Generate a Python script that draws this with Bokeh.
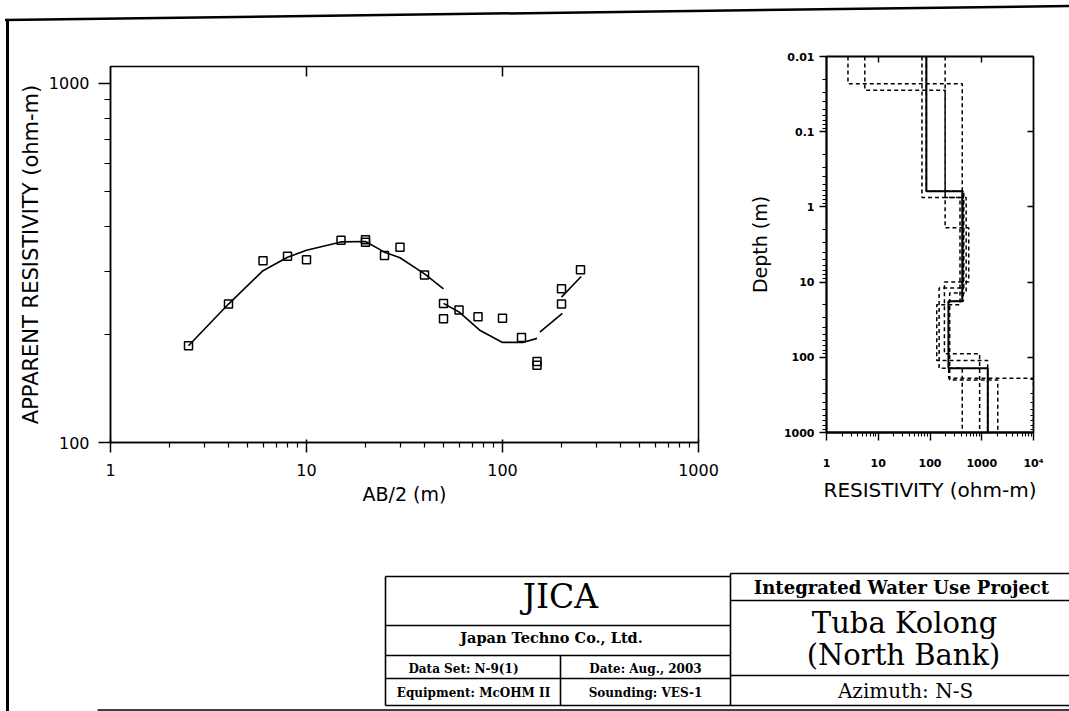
from bokeh.plotting import figure
from bokeh.layouts import column, row
from bokeh.models import Range1d, FixedTicker, LogAxis, CustomJSTickFormatter
from bokeh.core.properties import value
from bokeh.embed import file_html
from bokeh.resources import INLINE

# ---------------- data: apparent resistivity sounding curve ----------------
ab2 = [2.5, 4, 6, 8, 10, 15, 20, 20, 25, 30, 40, 50, 50, 60, 75, 100, 125, 150, 150, 200, 200, 250]
rho_app = [186, 243, 321, 330, 323, 366, 367, 361, 332, 350, 293, 244, 221, 234, 224, 222, 196, 168, 164, 243, 268, 303]

fit1_x = [2.5, 4, 6, 8, 10, 15, 20, 25, 30, 40, 50]
fit1_y = [186, 243, 301, 328, 343, 362, 363, 339, 327, 295, 268]
fit2_x = [50, 60, 77, 100, 127, 150]
fit2_y = [244, 231, 205, 190, 190, 195]
fit3_x = [155, 202]
fit3_y = [203, 229]
fit4_x = [200, 252]
fit4_y = [254, 290]

ab2_ticks = [1, 10, 100, 1000]
rho_ticks = [100, 1000]

# ---------------- data: layered model (right) ----------------
best_rho = [85, 420, 227, 1310]
best_bottom = [0.62, 18, 140]
equiv_rho = [
    [2.6, 420, 450, 150, 420],
    [5.5, 196, 560, 190, 910],
    [196, 500, 240, 2040],
    [70, 380, 135, 1300],
    [85, 440, 230, 10000],
]
equiv_bottom = [
    [0.023, 0.62, 12, 140],
    [0.028, 1.9, 10, 90],
    [0.75, 14, 200],
    [0.75, 20, 110],
    [0.62, 18, 190],
]
depth_top, depth_base = 0.01, 1000
res_ticks = [1, 10, 100, 1000, 10000]
depth_ticks = [0.01, 0.1, 1, 10, 100, 1000]

# ---------------- title block texts ----------------
block_left = ["JICA", "Japan Techno Co., Ltd.", "Data Set: N-9(1)", "Date: Aug., 2003",
              "Equipment: McOHM II", "Sounding: VES-1"]
block_right = ["Integrated Water Use Project", "Tuba Kolong", "(North Bank)", "Azimuth: N-S"]


def log_minors(e0, e1):
    return [m * 10.0 ** e for e in range(e0, e1) for m in range(2, 10)]


def profile(rhos, bottoms):
    tops = [depth_top] + list(bottoms)
    bots = list(bottoms) + [depth_base]
    xs, ys = [], []
    for r, t, b in zip(rhos, tops, bots):
        xs += [r, r]
        ys += [t, b]
    return xs, ys


fmt = CustomJSTickFormatter(code="return tick >= 9999 ? '10\u2074' : String(tick);")
blank = CustomJSTickFormatter(code="return '';")
SANS = "DejaVu Sans"
SERIF = "DejaVu Serif"

TOP_H = 565
W1, W2 = 745, 324
R = W1 + W2
H3 = 711 - TOP_H

# ================= left: sounding curve =================
p1 = figure(width=W1, height=TOP_H, x_axis_type="log", y_axis_type="log",
            x_range=Range1d(1, 1000), y_range=Range1d(100, 1115),
            toolbar_location=None, output_backend="svg",
            min_border_left=110, min_border_right=W1 - 698, min_border_top=66,
            min_border_bottom=TOP_H - 442)
p1.grid.visible = False
p1.outline_line_color = "black"
p1.outline_line_width = 1.5
p1.border_fill_color = None

xa = p1.xaxis[0]
xa.ticker = FixedTicker(ticks=ab2_ticks, minor_ticks=log_minors(0, 3))
xa.major_tick_out, xa.major_tick_in = 10, 3
xa.minor_tick_out, xa.minor_tick_in = 5, 0
xa.major_label_standoff = 11
xa.axis_label = "AB/2 (m)"
xa.axis_label_standoff = 4
xa.axis_label_text_font_size = "19px"

ya = p1.yaxis[0]
ya.ticker = FixedTicker(ticks=rho_ticks, minor_ticks=log_minors(2, 3))
ya.major_tick_out, ya.major_tick_in = 12, 0
ya.minor_tick_out, ya.minor_tick_in = 6, 0
ya.major_label_standoff = 9
ya.axis_label = "APPARENT RESISTIVITY (ohm-m)"
ya.axis_label_standoff = 3
ya.axis_label_text_font_size = "21px"

for a in (xa, ya):
    a.formatter = fmt
    a.axis_line_width = 1.5
    a.major_tick_line_width = 1.5
    a.minor_tick_line_width = 1.2
    a.major_label_text_font = SANS
    a.major_label_text_font_size = "16px"
    a.major_label_text_color = "black"
    a.axis_label_text_font = SANS
    a.axis_label_text_font_style = "normal"
    a.axis_label_text_color = "black"

top1 = LogAxis(ticker=FixedTicker(ticks=[10, 100]), formatter=blank, major_tick_in=10, major_tick_out=0,
               minor_tick_in=0, minor_tick_out=0, axis_line_color=None, major_tick_line_width=1.5)
p1.add_layout(top1, "above")

p1.scatter(ab2, rho_app, marker="square", size=8, fill_color=None, line_color="black", line_width=1.5)
for fx, fy in ((fit1_x, fit1_y), (fit2_x, fit2_y), (fit3_x, fit3_y), (fit4_x, fit4_y)):
    p1.line(fx, fy, line_color="black", line_width=1.6)

# ================= right: layered model =================
p2 = figure(width=W2, height=TOP_H, x_axis_type="log", y_axis_type="log",
            x_range=Range1d(1, 10000), y_range=Range1d(1000, 0.01),
            toolbar_location=None, output_backend="svg",
            min_border_left=823 - W1, min_border_right=R - 1033, min_border_top=56,
            min_border_bottom=TOP_H - 432)
p2.grid.visible = False
p2.outline_line_color = "black"
p2.outline_line_width = 1.8
p2.border_fill_color = None

xb = p2.xaxis[0]
xb.ticker = FixedTicker(ticks=res_ticks, minor_ticks=log_minors(0, 4))
xb.major_tick_out, xb.major_tick_in = 8, 0
xb.minor_tick_out, xb.minor_tick_in = 4, 0
xb.major_label_standoff = 16
xb.axis_label = "RESISTIVITY (ohm-m)"
xb.axis_label_standoff = 5
xb.axis_label_text_font_size = "20px"

yb = p2.yaxis[0]
yb.ticker = FixedTicker(ticks=depth_ticks, minor_ticks=log_minors(-2, 3))
yb.major_tick_out, yb.major_tick_in = 7, 0
yb.minor_tick_out, yb.minor_tick_in = 4, 0
yb.major_label_standoff = 5
yb.axis_label = "Depth (m)"
yb.axis_label_standoff = 10
yb.axis_label_text_font_size = "19px"

for a in (xb, yb):
    a.formatter = fmt
    a.axis_line_width = 1.8
    a.major_tick_line_width = 1.4
    a.minor_tick_line_width = 1.1
    a.major_label_text_font = SANS
    a.major_label_text_font_size = "11px"
    a.major_label_text_font_style = "bold"
    a.major_label_text_color = "black"
    a.axis_label_text_font = SANS
    a.axis_label_text_font_style = "normal"
    a.axis_label_text_color = "black"

top2 = LogAxis(ticker=FixedTicker(ticks=[10, 1000]), formatter=blank, major_tick_in=6, major_tick_out=0,
               minor_tick_in=0, minor_tick_out=0, axis_line_color=None, major_tick_line_width=1.4)
right2 = LogAxis(ticker=FixedTicker(ticks=[0.1, 1, 10, 100], minor_ticks=log_minors(2, 3)), formatter=blank,
                 major_tick_in=6, major_tick_out=0, minor_tick_in=3, minor_tick_out=0,
                 axis_line_color=None, major_tick_line_width=1.4)
p2.add_layout(top2, "above")
p2.add_layout(right2, "right")

for rr, bb in zip(equiv_rho, equiv_bottom):
    ex, ey = profile(rr, bb)
    p2.line(ex, ey, line_color="black", line_width=1.5, line_dash="4 3")
bx, by = profile(best_rho, best_bottom)
p2.line(bx, by, line_color="black", line_width=2)

# ================= bottom: title block =================
p3 = figure(width=R, height=H3, x_range=Range1d(0, R), y_range=Range1d(H3, 0),
            toolbar_location=None, output_backend="svg", x_axis_location=None, y_axis_location=None,
            min_border=0, min_border_left=0, min_border_right=0, min_border_top=0, min_border_bottom=0)
p3.grid.visible = False
p3.outline_line_color = None
p3.background_fill_color = None
p3.border_fill_color = None

hx0 = [385, 385, 385, 385, 730, 730, 730, 385, 97]
hx1 = [730, 730, 730, 730, R, R, R, R, R]
hy = [11, 60, 90, 113, 8, 35, 110, 140, 144.5]
p3.segment(x0=hx0, y0=hy, x1=hx1, y1=hy, line_color="black", line_width=1.6)
p3.segment(x0=[385, 730, 560], y0=[11, 8, 90], x1=[385, 730, 560], y1=[140, 140, 140],
           line_color="black", line_width=1.6)

lx = [560, 551, 463, 645, 473, 645]
ly = [31, 72, 103, 103, 127, 127]
lsz = ["33px", "14.5px", "12px", "12px", "12px", "12px"]
lst = ["normal", "bold", "bold", "bold", "bold", "bold"]
for t, x, y, s, st in zip(block_left, lx, ly, lsz, lst):
    p3.text(x=[x], y=[y], text=[t], text_font=value(SERIF), text_font_size=s, text_font_style=st,
            text_align="center", text_baseline="middle", text_color="black")

rx = [901, 904, 903, 905]
ry = [22, 57, 89, 125]
rsz = ["18px", "29px", "29px", "20px"]
rst = ["bold", "normal", "normal", "normal"]
for t, x, y, s, st in zip(block_right, rx, ry, rsz, rst):
    p3.text(x=[x], y=[y], text=[t], text_font=value(SERIF), text_font_size=s, text_font_style=st,
            text_align="center", text_baseline="middle", text_color="black")

# scanned page edges (left edge and slanted top edge) behind the panels
edge_svg = ("data:image/svg+xml;utf8,<svg xmlns='http://www.w3.org/2000/svg' width='%d' height='%d'>"
            "<line x1='7.5' y1='20' x2='7.5' y2='%d' stroke='black' stroke-width='3'/>"
            "<line x1='5' y1='20' x2='%d' y2='6' stroke='black' stroke-width='2.5'/></svg>"
            % (R, TOP_H + H3, TOP_H + H3, R))

layout = column(row(p1, column(p2)), p3,
                styles={"background-image": 'url("%s")' % edge_svg,
                        "background-repeat": "no-repeat",
                        "background-position": "0 0"})
open("out.html", "w").write(file_html(layout, INLINE))
